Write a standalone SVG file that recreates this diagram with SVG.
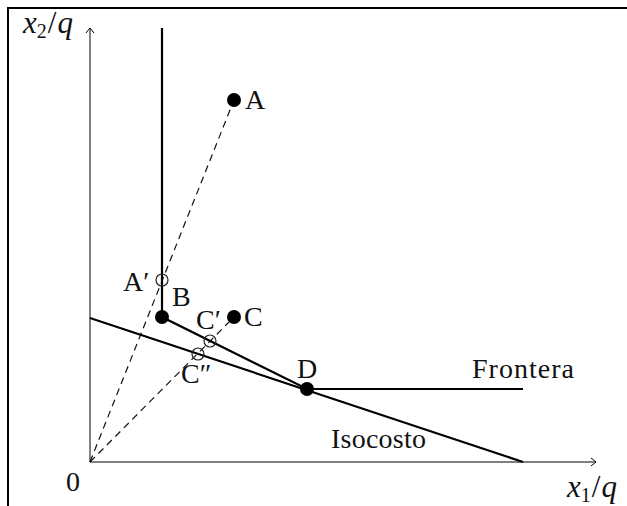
<svg xmlns="http://www.w3.org/2000/svg" width="627" height="506" viewBox="0 0 627 506">
<style>
text{font-family:"Liberation Serif","DejaVu Serif",serif;fill:#111}
.lbl{font-size:28px}
.ax{font-size:31px}
.thick{stroke:#000;stroke-width:2.2;fill:none}
.axis{stroke:#000;stroke-width:1;fill:none}
.dash{stroke:#111;stroke-width:1.2;stroke-dasharray:7 5;fill:none}
.dot{fill:#000}
.open{fill:none;stroke:#222;stroke-width:1.2}
.it{font-style:italic}
</style>
<defs>
<marker id="arr" viewBox="-6 -5 8 10" markerWidth="8" markerHeight="10" refX="0" refY="0" orient="auto" markerUnits="userSpaceOnUse">
<path d="M-5,-4 Q-1,-1 0,0 Q-1,1 -5,4" fill="none" stroke="#000" stroke-width="1"/>
</marker>
</defs>
<rect x="8" y="8" width="640" height="520" fill="#fff" stroke="#000" stroke-width="2"/>
<g id="connectors">
<line class="axis" x1="90" y1="462" x2="90" y2="28" marker-end="url(#arr)"/>
<line class="axis" x1="90" y1="462" x2="596" y2="462" marker-end="url(#arr)"/>
<line class="dash" x1="90" y1="462" x2="234" y2="100"/>
<line class="dash" x1="90" y1="462" x2="234" y2="317"/>
<polyline class="thick" points="162,28 162,317 307,389 523,389"/>
<line class="thick" x1="90" y1="318" x2="523" y2="462"/>
</g>
<g id="axis-labels">
<text class="ax" x="23" y="33"><tspan class="it">x</tspan><tspan font-size="20" dy="5">2</tspan><tspan dy="-5" dx="1">/</tspan><tspan class="it" dx="1">q</tspan></text>
<text class="ax" x="567" y="497"><tspan class="it">x</tspan><tspan font-size="20" dy="5">1</tspan><tspan dy="-5" dx="1">/</tspan><tspan class="it" dx="1">q</tspan></text>
<text class="lbl" x="66" y="491">0</text>
</g>
<g id="A"><circle class="dot" cx="234" cy="100" r="7"/><text class="lbl" x="245" y="109">A</text></g>
<g id="Aprime"><circle class="open" cx="162" cy="280" r="6"/><text class="lbl" x="123" y="291">A′</text></g>
<g id="B"><circle class="dot" cx="162" cy="317" r="7"/><text class="lbl" x="172" y="306">B</text></g>
<g id="C"><circle class="dot" cx="234" cy="317" r="7"/><text class="lbl" x="244" y="326">C</text></g>
<g id="Cprime"><circle class="open" cx="210" cy="341" r="6"/><text class="lbl" x="196" y="329">C′</text></g>
<g id="Cdprime"><circle class="open" cx="198" cy="354" r="6"/><text class="lbl" x="181" y="383">C″</text></g>
<g id="D"><circle class="dot" cx="307" cy="389" r="7"/><text class="lbl" x="297" y="378">D</text></g>
<g id="Frontera"><text class="lbl" x="472" y="378" textLength="102">Frontera</text></g>
<g id="Isocosto"><text class="lbl" x="331" y="448" textLength="95">Isocosto</text></g>
</svg>
